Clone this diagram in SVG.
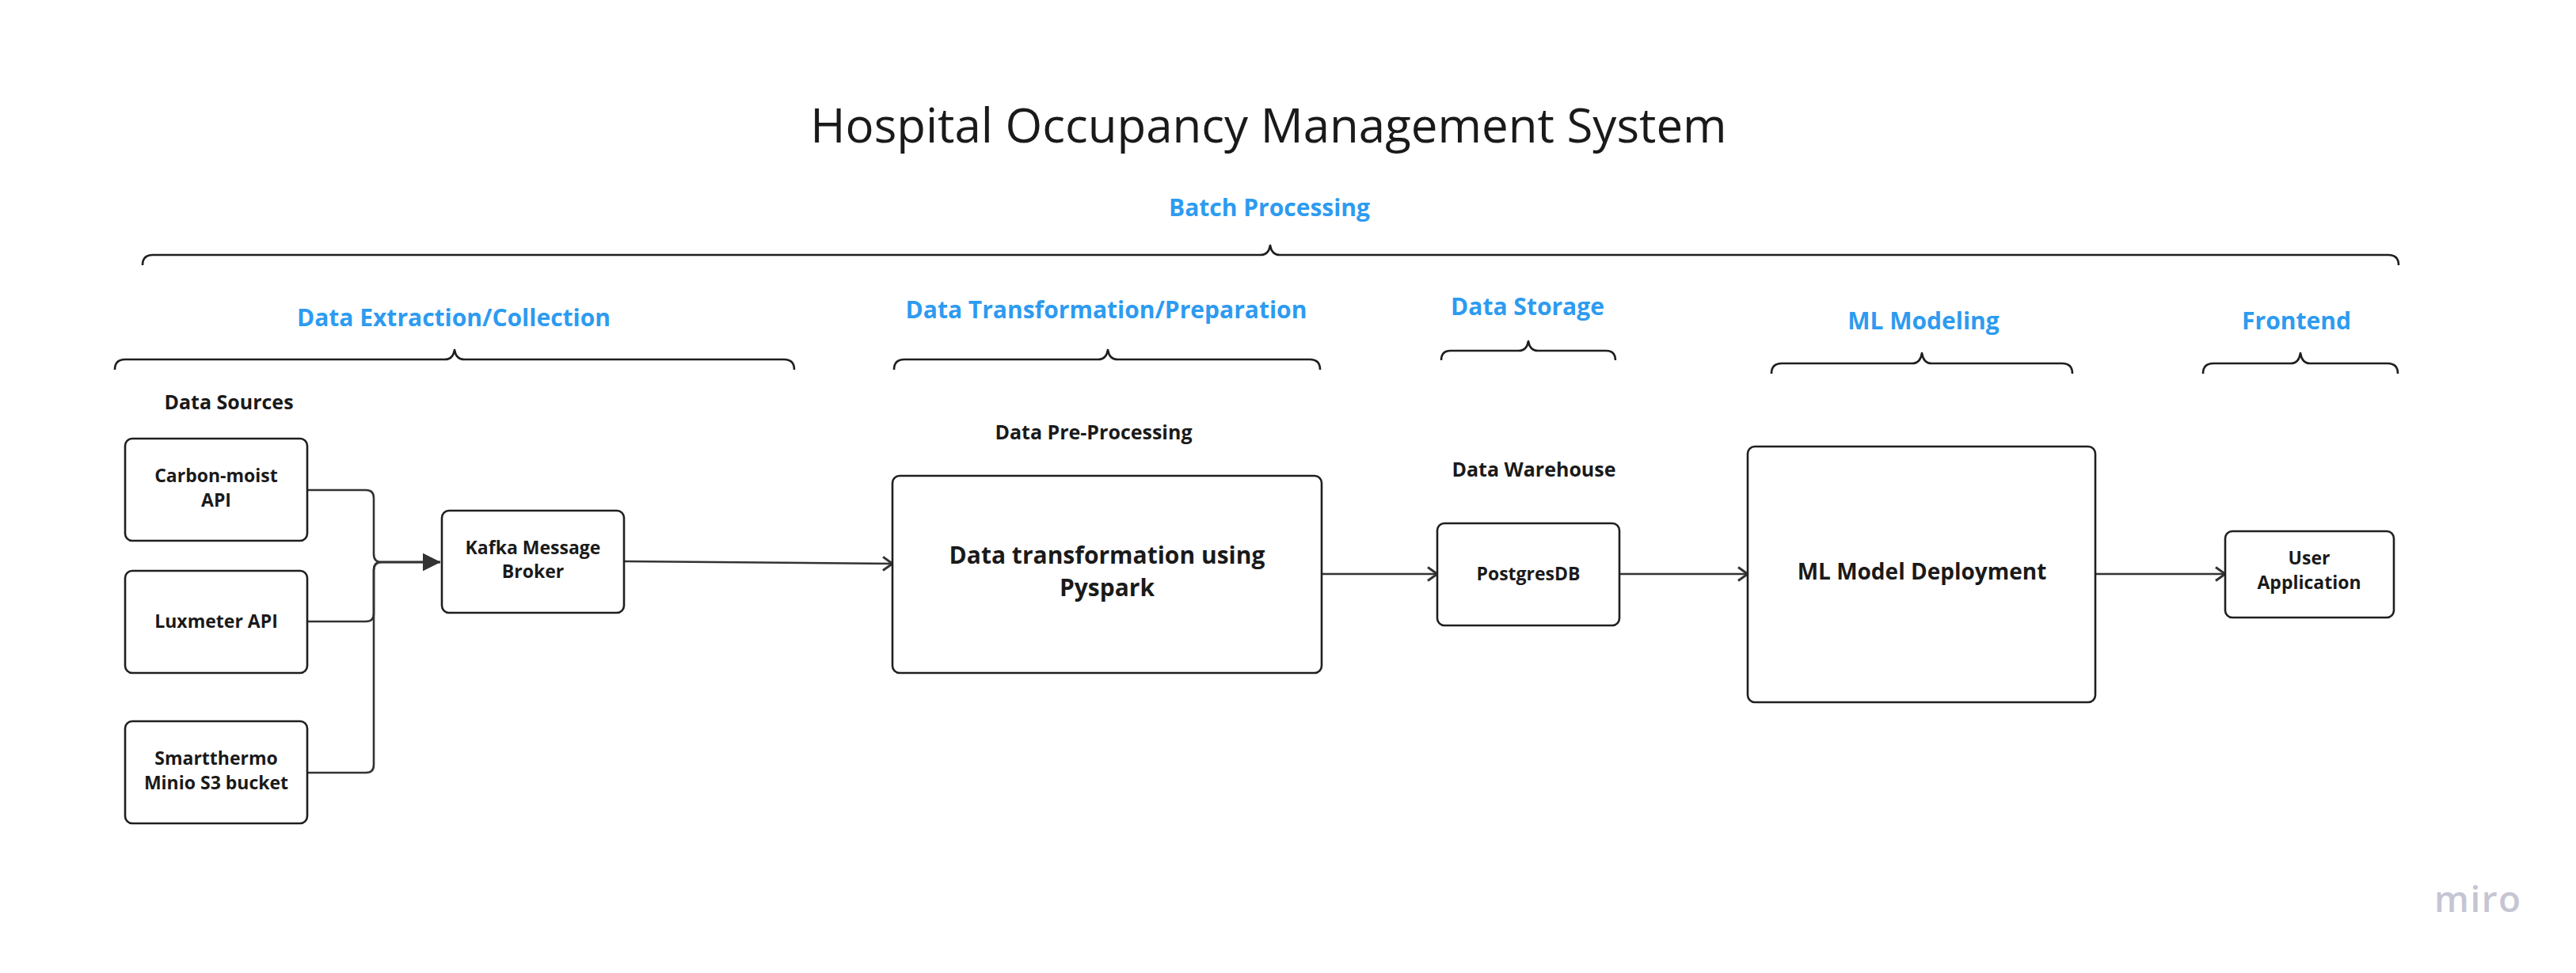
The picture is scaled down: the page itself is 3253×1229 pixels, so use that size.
<svg xmlns="http://www.w3.org/2000/svg" width="3253" height="1229" viewBox="0 0 3253 1229">
<style>
.bg{fill:#ffffff}
.box{fill:#ffffff;stroke:#1f1f1f;stroke-width:2.6}
.t{font-family:"Open Sans","Noto Sans","Liberation Sans",sans-serif;font-weight:700;fill:#1a1a1a;text-anchor:middle}
.n{font-size:23px}
.big{font-size:28px}
.big30{font-size:30px}
.lbl{font-size:25px}
.sec{font-family:"Open Sans","Noto Sans","Liberation Sans",sans-serif;font-weight:700;fill:#2d9bf0;text-anchor:middle;font-size:30px}
.title{font-family:"Open Sans","Noto Sans","Liberation Sans",sans-serif;font-weight:400;fill:#1a1a1a;text-anchor:middle;font-size:60px}
.brace{fill:none;stroke:#1f1f1f;stroke-width:2.6;stroke-linejoin:round}
.c{fill:none;stroke:#333333;stroke-width:2.6}
.logo{font-family:"Open Sans","Noto Sans",sans-serif;font-weight:600;fill:#c5c5d3;font-size:46px;letter-spacing:1.5px}
</style>
<defs>
<marker id="tri" markerUnits="userSpaceOnUse" markerWidth="24" markerHeight="24" refX="22" refY="11" orient="auto">
<path d="M0,0 L22,11 L0,22 z" fill="#333333"/>
</marker>
<marker id="chev" markerUnits="userSpaceOnUse" markerWidth="24" markerHeight="24" refX="17" refY="10" orient="auto">
<path d="M5,1.5 L17,10 L5,18.5" fill="none" stroke="#333333" stroke-width="3"/>
</marker>
</defs>
<rect class="bg" x="0" y="0" width="3253" height="1229"/>

<text class="title" x="1602" y="180">Hospital Occupancy Management System</text>

<g id="braces">
<text class="sec" x="1603" y="273">Batch Processing</text>
<path class="brace" d="M180,335 Q180,322 193,322 H1592 Q1602,322 1604,310 Q1606,322 1616,322 H3016 Q3029,322 3029,335"/>
<text class="sec" x="573" y="412">Data Extraction/Collection</text>
<path class="brace" d="M145,467 Q145,454 158,454 H562 Q572,454 574,442 Q576,454 586,454 H990 Q1003,454 1003,467"/>
<text class="sec" x="1397" y="402">Data Transformation/Preparation</text>
<path class="brace" d="M1129,467 Q1129,454 1142,454 H1387 Q1397,454 1399,442 Q1401,454 1411,454 H1654 Q1667,454 1667,467"/>
<text class="sec" x="1929" y="398">Data Storage</text>
<path class="brace" d="M1820,455 Q1820,443 1832,443 H1918 Q1928,443 1930,431 Q1932,443 1942,443 H2028 Q2040,443 2040,455"/>
<text class="sec" x="2429" y="416">ML Modeling</text>
<path class="brace" d="M2237,472 Q2237,459 2250,459 H2415 Q2425,459 2427,446 Q2429,459 2439,459 H2604 Q2617,459 2617,472"/>
<text class="sec" x="2900" y="416">Frontend</text>
<path class="brace" d="M2782,472 Q2782,459 2795,459 H2893 Q2903,459 2905,446 Q2907,459 2917,459 H3015 Q3028,459 3028,472"/>
</g>

<text class="t lbl" x="289" y="517">Data Sources</text>
<text class="t lbl" x="1381" y="555">Data Pre-Processing</text>
<text class="t lbl" x="1937" y="602">Data Warehouse</text>

<g id="connectors">
<path class="c" d="M388,619 H462 Q472,619 472,629 V700 Q472,710 482,710 H556" marker-end="url(#tri)"/>
<path class="c" d="M388,785 H462 Q472,785 472,775 V720 Q472,710 482,710 H556" marker-end="url(#tri)"/>
<path class="c" d="M388,976 H462 Q472,976 472,966 V720 Q472,710 482,710 H556" marker-end="url(#tri)"/>
<path class="c" d="M788,709 L1127,712" marker-end="url(#chev)"/>
<path class="c" d="M1669,725 H1815" marker-end="url(#chev)"/>
<path class="c" d="M2045,725 H2207" marker-end="url(#chev)"/>
<path class="c" d="M2646,725 H2810" marker-end="url(#chev)"/>
</g>

<g id="carbon">
<rect class="box" x="158" y="554" width="230" height="129" rx="9"/>
<text class="t n" x="273" y="609">Carbon-moist</text>
<text class="t n" x="273" y="640">API</text>
</g>
<g id="luxmeter">
<rect class="box" x="158" y="721" width="230" height="129" rx="9"/>
<text class="t n" x="273" y="793">Luxmeter API</text>
</g>
<g id="smartthermo">
<rect class="box" x="158" y="911" width="230" height="129" rx="9"/>
<text class="t n" x="273" y="966">Smartthermo</text>
<text class="t n" x="273" y="997">Minio S3 bucket</text>
</g>
<g id="kafka">
<rect class="box" x="558" y="645" width="230" height="129" rx="9"/>
<text class="t n" x="673" y="700">Kafka Message</text>
<text class="t n" x="673" y="730">Broker</text>
</g>
<g id="pyspark">
<rect class="box" x="1127" y="601" width="542" height="249" rx="9"/>
<text class="t big30" x="1398" y="712">Data transformation using</text>
<text class="t big30" x="1398" y="753">Pyspark</text>
</g>
<g id="postgres">
<rect class="box" x="1815" y="661" width="230" height="129" rx="9"/>
<text class="t n" x="1930" y="733">PostgresDB</text>
</g>
<g id="ml">
<rect class="box" x="2207" y="564" width="439" height="323" rx="9"/>
<text class="t big" x="2427" y="732">ML Model Deployment</text>
</g>
<g id="userapp">
<rect class="box" x="2810" y="671" width="213" height="109" rx="9"/>
<text class="t n" x="2916" y="713">User</text>
<text class="t n" x="2916" y="744">Application</text>
</g>

<text class="logo" x="3074" y="1152">miro</text>
</svg>
